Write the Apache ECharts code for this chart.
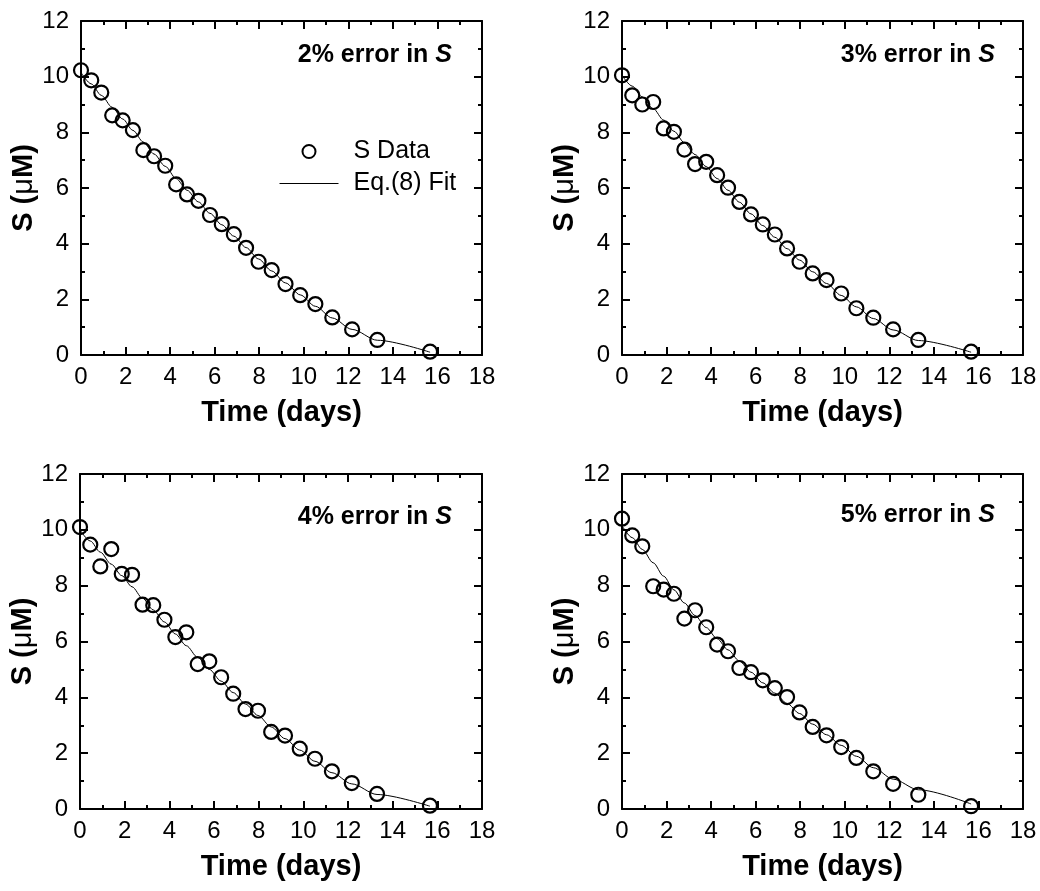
<!DOCTYPE html>
<html>
<head>
<meta charset="utf-8">
<script src="https://cdn.jsdelivr.net/npm/echarts@6/dist/echarts.min.js"></script>
<style>
html,body{margin:0;padding:0;background:#fff;}
#chart{width:1040px;height:891px;}
</style>
</head>
<body>
<div id="chart"></div>
<script>
// ---- data ----
const times = [0, 0.46, 0.91, 1.4, 1.87, 2.33, 2.8, 3.28, 3.78, 4.27, 4.76, 5.27, 5.79, 6.32, 6.86, 7.41, 7.97, 8.56, 9.18, 9.84, 10.52, 11.28, 12.17, 13.3, 15.67];

const data2 = [10.23, 9.87, 9.43, 8.61, 8.43, 8.08, 7.36, 7.14, 6.80, 6.13, 5.77, 5.54, 5.03, 4.70, 4.34, 3.85, 3.35, 3.05, 2.55, 2.15, 1.83, 1.35, 0.92, 0.54, 0.12];
const data3 = [10.05, 9.33, 9.00, 9.09, 8.14, 8.02, 7.38, 6.86, 6.94, 6.46, 6.01, 5.50, 5.05, 4.69, 4.33, 3.83, 3.35, 2.93, 2.69, 2.21, 1.68, 1.34, 0.92, 0.54, 0.12];
const data4 = [10.10, 9.47, 8.69, 9.31, 8.42, 8.39, 7.32, 7.30, 6.78, 6.16, 6.33, 5.19, 5.29, 4.72, 4.13, 3.58, 3.52, 2.76, 2.63, 2.16, 1.80, 1.35, 0.93, 0.54, 0.12];
const data5 = [10.40, 9.80, 9.41, 7.98, 7.86, 7.71, 6.82, 7.12, 6.51, 5.89, 5.65, 5.05, 4.90, 4.61, 4.33, 4.01, 3.46, 2.94, 2.64, 2.22, 1.83, 1.35, 0.90, 0.51, 0.10];

const fit2 = [10.15, 9.74, 9.33, 8.90, 8.48, 8.07, 7.65, 7.22, 6.78, 6.34, 5.92, 5.50, 5.09, 4.68, 4.27, 3.86, 3.45, 3.02, 2.59, 2.16, 1.75, 1.33, 0.92, 0.53, 0.10];
const fit3 = [10.05, 9.66, 9.27, 8.85, 8.44, 8.04, 7.63, 7.20, 6.77, 6.34, 5.92, 5.49, 5.07, 4.65, 4.23, 3.82, 3.41, 2.99, 2.57, 2.14, 1.73, 1.31, 0.90, 0.52, 0.10];
const fit4 = [10.00, 9.60, 9.20, 8.77, 8.36, 7.96, 7.55, 7.13, 6.70, 6.27, 5.85, 5.43, 5.00, 4.58, 4.17, 3.76, 3.35, 2.94, 2.52, 2.11, 1.71, 1.30, 0.90, 0.52, 0.10];
const fit5 = [10.15, 9.72, 9.30, 8.82, 8.34, 7.85, 7.38, 6.93, 6.50, 6.10, 5.70, 5.30, 4.90, 4.52, 4.15, 3.78, 3.42, 3.04, 2.66, 2.28, 1.89, 1.48, 1.07, 0.69, 0.18];

const panelLabels = ['2% error in ', '3% error in ', '4% error in ', '5% error in '];
const xTickLabels = ['0','2','4','6','8','10','12','14','16','18'];
const yTickLabels = ['0','2','4','6','8','10','12'];
const xName = 'Time (days)';
const seriesNames = ['S Data', 'Eq.(8) Fit'];

// ---- layout ----
const FONT = '"Liberation Sans", Arial, Helvetica, sans-serif';
const grids = [
  {left: 81, top: 21, width: 401, height: 334},
  {left: 622, top: 21, width: 401, height: 334},
  {left: 80, top: 474, width: 402, height: 335},
  {left: 622, top: 474, width: 401, height: 335}
];
const annoPos = [[452, 55], [995, 55], [452, 517], [995, 515]];
const dataSets = [data2, data3, data4, data5];
const fitSets = [fit2, fit3, fit4, fit5];

const xAxes = [], yAxes = [], series = [], graphics = [];
function axisCommon(show) {
  return {
    axisLine: {show: true, onZero: false, lineStyle: {color: '#000', width: 2}},
    axisTick: {show: true, inside: true, length: 8, lineStyle: {color: '#000', width: 2}},
    minorTick: {show: true, splitNumber: 2, length: 4, lineStyle: {color: '#000', width: 2}},
    splitLine: {show: false},
    axisLabel: {show: show, color: '#000', fontFamily: FONT, fontSize: 24}
  };
}
grids.forEach((g, i) => {
  xAxes.push(Object.assign({
    type: 'value', gridIndex: i, position: 'bottom', min: 0, max: 18, interval: 2,
    name: xName, nameLocation: 'middle', nameGap: 43,
    nameTextStyle: {fontFamily: FONT, fontSize: 29, fontWeight: 'bold', color: '#000'}
  }, axisCommon(true)));
  xAxes[xAxes.length - 1].axisLabel.margin = 10;
  xAxes[xAxes.length - 1].axisLabel.formatter = (v) => xTickLabels[Math.round(v / 2)];
  xAxes.push(Object.assign({
    type: 'value', gridIndex: i, position: 'top', min: 0, max: 18, interval: 2
  }, axisCommon(false)));
  yAxes.push(Object.assign({
    type: 'value', gridIndex: i, position: 'left', min: 0, max: 12, interval: 2,
    name: '{b|S (}{m|μ}{b|M)}', nameLocation: 'middle', nameGap: 43, nameRotate: 90,
    nameTextStyle: {rich: {
      b: {fontFamily: FONT, fontSize: 29, fontWeight: 'bold', color: '#000'},
      m: {fontFamily: FONT, fontSize: 29, fontWeight: 'normal', color: '#000'}
    }}
  }, axisCommon(true)));
  yAxes[yAxes.length - 1].axisLabel.margin = 12;
  yAxes[yAxes.length - 1].axisLabel.formatter = (v) => yTickLabels[Math.round(v / 2)];
  yAxes.push(Object.assign({
    type: 'value', gridIndex: i, position: 'right', min: 0, max: 12, interval: 2
  }, axisCommon(false)));

  series.push({
    name: seriesNames[1], type: 'line', xAxisIndex: 2 * i, yAxisIndex: 2 * i,
    data: times.map((t, k) => [t, fitSets[i][k]]),
    smooth: 0.3, smoothMonotone: 'x', symbol: 'none',
    itemStyle: {color: '#000'},
    lineStyle: {color: '#000', width: 1}, z: 2, silent: true
  });
  series.push({
    name: seriesNames[0], type: 'scatter', xAxisIndex: 2 * i, yAxisIndex: 2 * i,
    data: times.map((t, k) => [t, dataSets[i][k]]),
    symbol: 'circle', symbolSize: 14,
    itemStyle: {color: 'rgba(255,255,255,0)', borderColor: '#000', borderWidth: 2.2, opacity: 1},
    z: 3, silent: true
  });
  graphics.push({
    type: 'text', x: annoPos[i][0], y: annoPos[i][1],
    style: {
      text: '{b|' + panelLabels[i] + '}{i|S}',
      align: 'right', verticalAlign: 'middle',
      rich: {
        b: {fontFamily: FONT, fontSize: 25, fontWeight: 'bold', fill: '#000'},
        i: {fontFamily: FONT, fontSize: 25, fontWeight: 'bold', fontStyle: 'italic', fill: '#000'}
      }
    }
  });
});

const chart = echarts.init(document.getElementById('chart'), null, {renderer: 'canvas'});
chart.setOption({
  backgroundColor: '#fff',
  animation: false,
  grid: grids,
  xAxis: xAxes,
  yAxis: yAxes,
  series: series,
  legend: {
    show: true, left: 279, top: 139, orient: 'vertical', padding: 0,
    data: [
      {name: seriesNames[0], icon: 'circle', itemStyle: {color: 'rgba(255,255,255,0)', borderColor: '#000', borderWidth: 2}},
      {name: seriesNames[1], itemStyle: {opacity: 0}, lineStyle: {color: '#000', width: 1}}
    ],
    itemWidth: 59, itemHeight: 13, itemGap: 7,
    textStyle: {fontFamily: FONT, fontSize: 25, color: '#000', padding: [0, 0, 0, 10]},
    selectedMode: false
  },
  graphic: graphics
});
</script>
</body>
</html>
